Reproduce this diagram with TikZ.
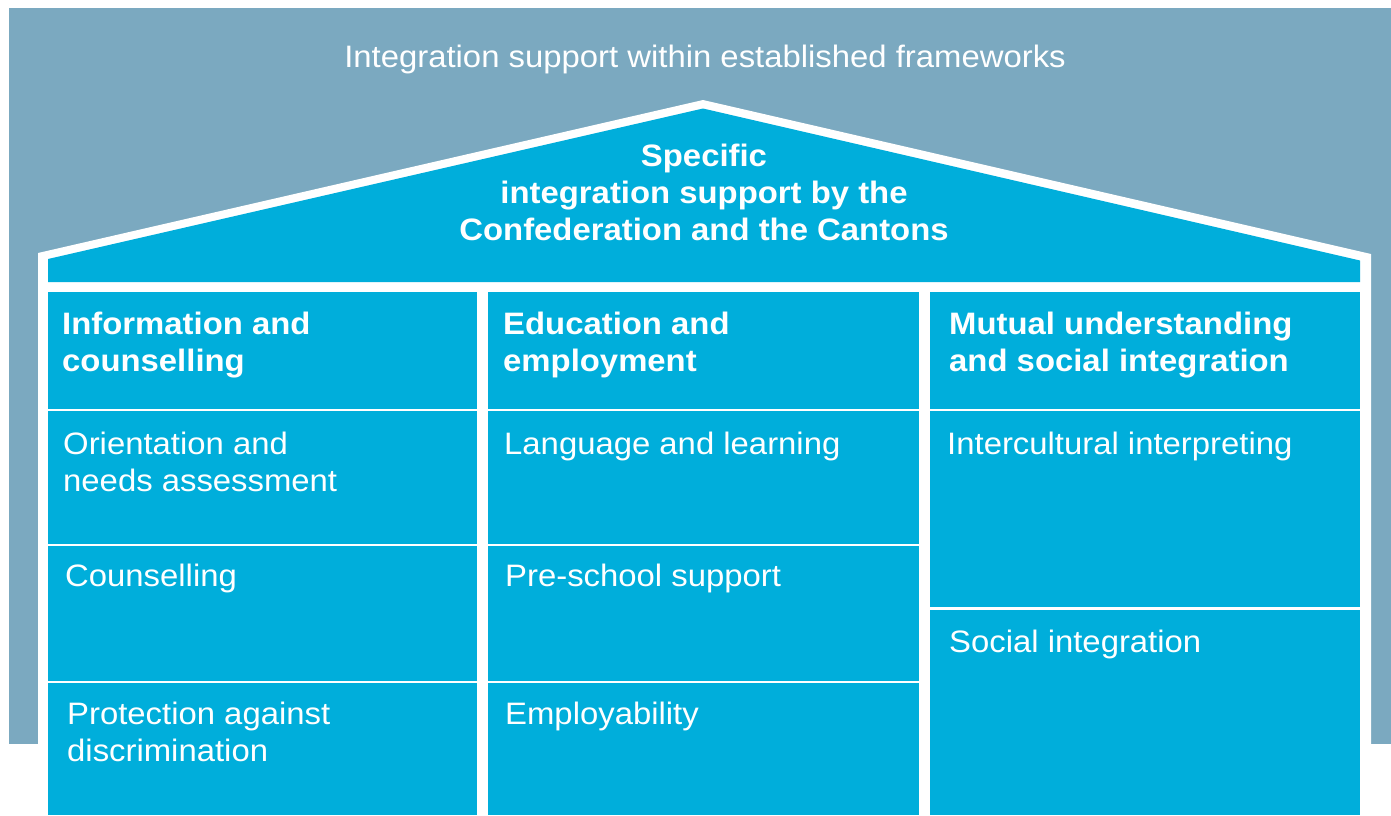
\documentclass[tikz,border=0pt]{standalone}
\usepackage{fontspec}
\setmainfont{Liberation Sans}[FakeStretch=1.06]
\definecolor{bgblue}{RGB}{123,169,192}
\definecolor{cyanfill}{RGB}{0,174,219}
\newcommand{\mystrut}{\rule{0pt}{25pt}}
\begin{document}
\begin{tikzpicture}[x=1pt,y=-1pt,
  cellbox/.style={fill=cyanfill, draw=none, anchor=north west, inner sep=0pt, outer sep=0pt},
  txt/.style={anchor=north west, inner sep=0pt, align=left, text=white, font=\fontsize{31}{37}\selectfont},
  hdr/.style={txt, font=\fontsize{31}{37}\selectfont\bfseries},
  rooftxt/.style={anchor=north, inner sep=0pt, align=center, text=white, font=\fontsize{31}{37}\selectfont\bfseries}]
\useasboundingbox (0,0) rectangle (1391,815);
% background frame
\fill[bgblue] (9,8) rectangle (1391,744);
\node[anchor=base, inner sep=0pt, text=white, font=\fontsize{31}{37}\selectfont] (title) at (705,67) {Integration support within established frameworks};
% house outline
\fill[white] (38,815) -- (38,253) -- (703,100) -- (1371,254) -- (1371,815) -- cycle;
% roof
\fill[cyanfill] (48,282) -- (48,259) -- (703,108.5) -- (1360,260.5) -- (1360,282) -- cycle;
\node[rooftxt] (roof) at (704,141) {\mystrut Specific\\integration support by the\\Confederation and the Cantons};
% column 1
\node[cellbox, minimum width=429pt, minimum height=117.5pt] (a0) at (48,291.5) {};
\node[cellbox, minimum width=429pt, minimum height=133pt] (a1) at (48,411) {};
\node[cellbox, minimum width=429pt, minimum height=135pt] (a2) at (48,546) {};
\node[cellbox, minimum width=429pt, minimum height=132pt] (a3) at (48,683) {};
% column 2
\node[cellbox, minimum width=431pt, minimum height=117.5pt] (b0) at (488,291.5) {};
\node[cellbox, minimum width=431pt, minimum height=133pt] (b1) at (488,411) {};
\node[cellbox, minimum width=431pt, minimum height=135pt] (b2) at (488,546) {};
\node[cellbox, minimum width=431pt, minimum height=132pt] (b3) at (488,683) {};
% column 3
\node[cellbox, minimum width=430pt, minimum height=117.5pt] (c0) at (930,291.5) {};
\node[cellbox, minimum width=430pt, minimum height=196pt] (c1) at (930,411) {};
\node[cellbox, minimum width=430pt, minimum height=205pt] (c2) at (930,610) {};
% texts
\node[hdr] (ta0) at (62,309) {\mystrut Information and\\counselling};
\node[txt] (ta1) at (63,429) {\mystrut Orientation and\\needs assessment};
\node[txt] (ta2) at (65,561) {\mystrut Counselling};
\node[txt] (ta3) at (67,699) {\mystrut Protection against\\discrimination};
\node[hdr] (tb0) at (503,309) {\mystrut Education and\\employment};
\node[txt] (tb1) at (504,429) {\mystrut Language and learning};
\node[txt] (tb2) at (505,561) {\mystrut Pre-school support};
\node[txt] (tb3) at (505,699) {\mystrut Employability};
\node[hdr] (tc0) at (949,309) {\mystrut Mutual understanding\\and social integration};
\node[txt] (tc1) at (947,429) {\mystrut Intercultural interpreting};
\node[txt] (tc2) at (949,627) {\mystrut Social integration};
\end{tikzpicture}
\end{document}
